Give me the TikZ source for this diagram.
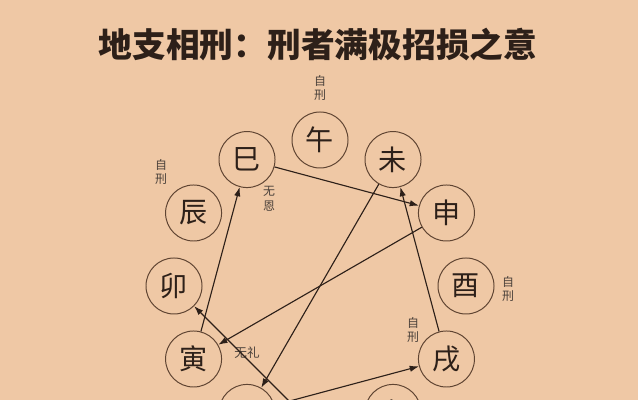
\documentclass[tikz,border=0pt]{standalone}
\usepackage{fontspec}
\newfontfamily\cjk{Noto Sans CJK SC}
\usetikzlibrary{arrows.meta,calc}
\definecolor{paper}{RGB}{239,200,165}
\definecolor{ink}{RGB}{45,32,25}
\definecolor{ring}{RGB}{95,68,50}
\begin{document}
\begin{tikzpicture}[x=0.025cm,y=0.025cm,
  branch/.style={circle,draw=ring,line width=0.7pt,minimum size=1.4cm,inner sep=0pt,
    text=ink,font=\cjk\fontsize{20}{20}\selectfont},
  note/.style={text=ink!85,align=center,inner sep=0pt,
    font=\cjk\fontsize{8.5}{10.5}\selectfont},
  rel/.style={draw=ink,line width=0.8pt,-{Latex[length=2.3mm,width=1.6mm]}}]
\clip (0,0) rectangle (638,400);
\fill[paper] (0,0) rectangle (638,400);
\node[text=ink,font=\cjk\bfseries\fontsize{24}{24}\selectfont] (title) at (318,355) {地支相刑：刑者满极招损之意};
\coordinate (c) at (320,114);
% twelve branches round the circle
\node[branch] (wu) at ($(c)+(90:146)$) {午};
\node[branch] (wei) at ($(c)+(60:146)$) {未};
\node[branch] (shen) at ($(c)+(30:146)$) {申};
\node[branch] (you) at ($(c)+(0:146)$) {酉};
\node[branch] (xu) at ($(c)+(-30:146)$) {戌};
\node[branch] (hai) at ($(c)+(-60:146)$) {亥};
\node[branch] (zi) at ($(c)+(-90:146)$) {子};
\node[branch] (chou) at ($(c)+(-120:146)$) {丑};
\node[branch] (yin) at ($(c)+(-150:146)$) {寅};
\node[branch] (mao) at ($(c)+(180:146)$) {卯};
\node[branch] (chen) at ($(c)+(150:146)$) {辰};
\node[branch] (si) at ($(c)+(120:146)$) {巳};
% labels
\node[note] (wuself) at (320,312) {自\\刑};
\node[note] (chenself) at (161,228) {自\\刑};
\node[note] (youself) at (508,111) {自\\刑};
\node[note] (xuself) at (413,70) {自\\刑};
\node[note] (wuen) at (269,201) {无\\恩};
\node[note,font=\cjk\fontsize{9}{9}\selectfont] (wuli) at (247,47) {无礼};
% punishments
\draw[rel] (si) -- (shen);
\draw[rel] (shen) -- (yin);
\draw[rel] (yin) -- (si);
\draw[rel] (wei) -- (chou);
\draw[rel] (chou) -- (xu);
\draw[rel] (xu) -- (wei);
\draw[rel] (zi) -- (mao);
\end{tikzpicture}
\end{document}
